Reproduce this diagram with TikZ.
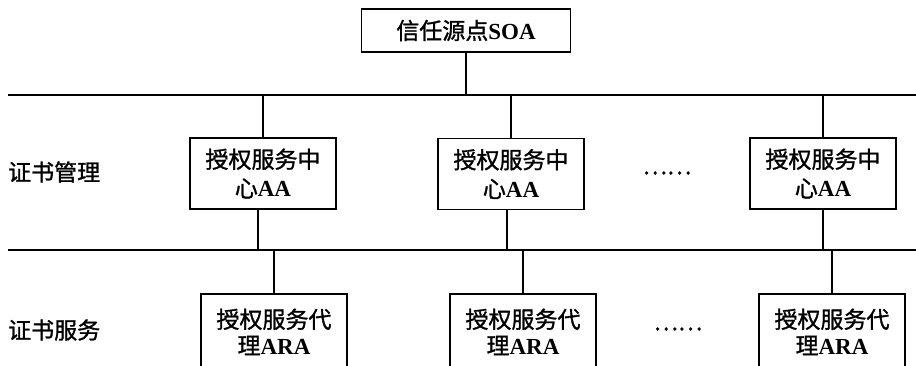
\documentclass[tikz,border=0pt]{standalone}
\usepackage{fontspec}
\setmainfont{Liberation Serif}
\newfontfamily\cjk{Noto Sans CJK SC}[FakeBold=1.2]
\usetikzlibrary{calc}
\begin{document}
\begin{tikzpicture}[x=1pt,y=-1pt,
  box/.style={draw,line width=1.8pt,inner sep=0pt,align=center,minimum width=146pt,text=black},
  aabox/.style={box,minimum height=71pt,font=\fontsize{23}{29}\selectfont},
  arabox/.style={box,minimum height=76pt,anchor=north,font=\fontsize{23}{26}\selectfont},
  lbl/.style={anchor=west,inner sep=0pt,font=\fontsize{23}{28}\selectfont\cjk,text=black},
  dots/.style={inner sep=0pt,font=\fontsize{23}{28}\selectfont\cjk,text=black},
  bus/.style={line width=1.8pt},
  conn/.style={line width=1.8pt}]
\useasboundingbox (0,0) rectangle (916,365);
\clip (0,0) rectangle (916,365);
\fill[white] (0,0) rectangle (916,365);

\coordinate (busL) at (8,95);
\coordinate (busR) at (916,95);
\coordinate (bus2L) at (8,250);
\coordinate (bus2R) at (916,250);

\node[box,minimum width=209pt,minimum height=43pt,font=\fontsize{23}{28}\selectfont] (soa) at (466,30.5) {{\cjk 信任源点}\textbf{SOA}};

\node[aabox] (aa1) at (263,173.5) {{\cjk 授权服务中}\\{\cjk 心}\textbf{AA}};
\node[aabox] (aa2) at (511,174) {{\cjk 授权服务中}\\{\cjk 心}\textbf{AA}};
\node[aabox] (aa3) at (823,173.5) {{\cjk 授权服务中}\\{\cjk 心}\textbf{AA}};

\node[arabox] (ara1) at (274,293) {{\cjk 授权服务代}\\{\cjk 理}\textbf{ARA}};
\node[arabox] (ara2) at (523,293) {{\cjk 授权服务代}\\{\cjk 理}\textbf{ARA}};
\node[arabox] (ara3) at (832,293) {{\cjk 授权服务代}\\{\cjk 理}\textbf{ARA}};

\node[lbl] (l1) at (8,172) {证书管理};
\node[lbl] (l2) at (8,330) {证书服务};
\node[dots] (d1) at (667,173) {……};
\node[dots] (d2) at (678,329) {……};

\draw[bus] (busL) -- (busR);
\draw[bus] (bus2L) -- (bus2R);

\draw[conn] (soa) -- (soa |- busL);
\draw[conn] (aa1.north |- busL) -- (aa1);
\draw[conn] (aa2.north |- busL) -- (aa2);
\draw[conn] (aa3.north |- busL) -- (aa3);
\draw[conn] ([xshift=-5pt]aa1.south) -- ([xshift=-5pt]aa1.south |- bus2L);
\draw[conn] ([xshift=-4pt]aa2.south) -- ([xshift=-4pt]aa2.south |- bus2L);
\draw[conn] (aa3) -- (aa3.south |- bus2L);
\draw[conn] (ara1.north |- bus2L) -- (ara1);
\draw[conn] (ara2.north |- bus2L) -- (ara2);
\draw[conn] (ara3.north |- bus2L) -- (ara3);
\end{tikzpicture}
\end{document}
